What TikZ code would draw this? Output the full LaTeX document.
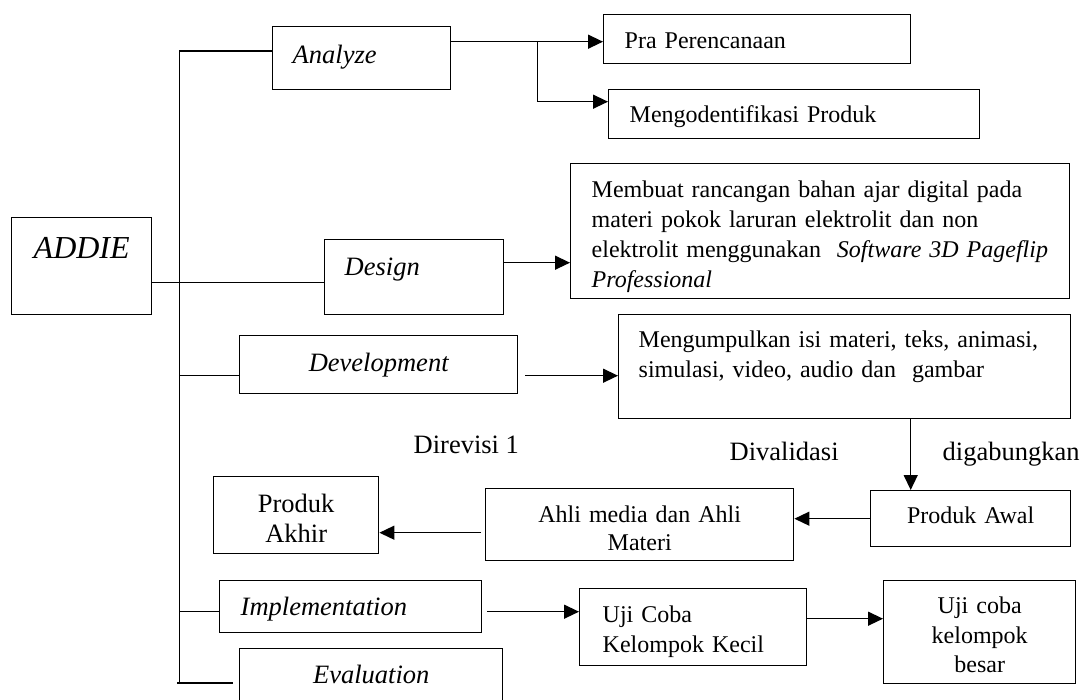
\documentclass[tikz,border=0pt]{standalone}
\usepackage{fontspec}
\setmainfont{Liberation Serif}
\usetikzlibrary{arrows.meta}
\tikzset{
	boxdim/.style n args = {4}{
		text width=#1pt,
		inner xsep=#2pt,
		text height=#3pt,
		text depth=#4pt
	},
	node_box/.style = {
		rectangle,
		draw=black,
		line width=1.4pt,
		inner ysep=0pt,
		anchor=north west,
		align=left,
		font=\fontsize{24}{30}\selectfont
	},
	node_phase/.style = {
		node_box,
		font=\fontsize{26.5}{30}\selectfont\itshape
	},
	node_label/.style = {
		anchor=base west,
		inner sep=0pt,
		font=\fontsize{26.5}{30}\selectfont
	}
}

\begin{document}
\begin{tikzpicture}[x=1pt,y=-1pt,>={Triangle[length=15pt,width=14pt]},line width=1.4pt]
\path[use as bounding box, fill=white] (0,0) rectangle (1083,700);

% phases
\node [node_phase, boxdim={96}{22}{41}{56}, align=center, font=\fontsize{32}{36}\selectfont\itshape] (addie) at (11,217) {ADDIE};
\node [node_phase, boxdim={138}{20}{37}{26}] (analyze) at (272,26) {Analyze};
\node [node_phase, boxdim={139}{20}{36}{39}] (design) at (324,239) {Design};
\node [node_phase, boxdim={238}{20}{36}{22}, align=center] (develop) at (239,335) {Development};
\node [node_phase, boxdim={220}{21}{35}{17}] (implement) at (219,580) {Implementation};
\node [node_phase, boxdim={223}{20}{35}{25}, align=center] (evaluate) at (239,648) {Evaluation};

% steps
\node [node_box, boxdim={265}{21}{34}{15}] (pra) at (603,14) {Pra Perencanaan};
\node [node_box, boxdim={329}{21}{33}{16}] (ident) at (608,89) {Mengodentifikasi Produk};
\node [node_box, boxdim={457}{21}{34}{101}] (designtxt) at (570,163)
	{Membuat rancangan bahan ajar digital pada\\
	materi pokok laruran elektrolit dan non\\
	elektrolit menggunakan\ \ \textit{Software 3D Pageflip}\\
	\textit{Professional}};
\node [node_box, boxdim={412}{20}{33}{71}] (devtxt) at (618,314)
	{Mengumpulkan isi materi, teks, animasi,\\
	simulasi, video, audio dan\ \ gambar};
\node [node_box, boxdim={160}{20}{33}{23}, align=center] (awal) at (870,490) {Produk Awal};
\node [node_box, boxdim={268}{20}{34}{38}, align=center, font=\fontsize{24}{28}\selectfont] (ahli) at (485,488) {Ahli media dan Ahli\\Materi};
\node [node_box, boxdim={135}{15}{36}{41}, align=center, font=\fontsize{26.5}{30}\selectfont] (akhir) at (213,476) {Produk\\Akhir};
\node [node_box, boxdim={181}{23}{34}{43}] (ujikecil) at (579,588) {Uji Coba\\Kelompok Kecil};
\node [node_box, boxdim={160}{16}{33}{70}, align=center, font=\fontsize{24}{29.5}\selectfont] (ujibesar) at (883,580) {Uji coba\\kelompok\\besar};

% labels
\node [node_label] (revisi) at (413,453) {Direvisi 1};
\node [node_label] (validasi) at (729,460) {Divalidasi};
\node [node_label] (gabung) at (942,460) {digabungkan};

% trunk
\coordinate (trunk_top) at (179,51);
\coordinate (trunk_bot) at (179,683);
\draw [line width=1pt] (trunk_top) -- (trunk_bot);
\draw (trunk_top) -- (analyze.west |- trunk_top);
\draw ([yshift=-11pt]develop.west -| trunk_top) -- ([yshift=-11pt]develop.west);
\draw ([yshift=-5pt]implement.west -| trunk_top) -- ([yshift=-5pt]implement.west);
\draw ([xshift=-2pt]trunk_bot) -- ([xshift=-6pt]evaluate.west |- trunk_bot);
\draw ([yshift=-16.5pt]addie.east) -- ([yshift=-16.5pt]addie.east -| design.west);

% arrows
\draw [->] ([yshift=16.5pt]analyze.east) -- ([yshift=16.5pt]analyze.east -| pra.west);
\coordinate (split) at ([xshift=86pt,yshift=16.5pt]analyze.east);
\draw [->] (split) |- ([yshift=12.5pt]ident.west);
\draw [->] ([yshift=14.5pt]design.east) -- ([yshift=14.5pt]design.east -| designtxt.west);
\draw [->] ([xshift=7pt,yshift=-11pt]develop.east) -- ([yshift=-11pt]develop.east -| devtxt.west);
\draw [->] ([xshift=66pt]devtxt.south) -- ([xshift=66pt]devtxt.south |- awal.north);
\draw [->] (awal.west) -- (awal.west -| ahli.east);
\draw [->] ([xshift=-4pt,yshift=-8pt]ahli.west) -- ([yshift=-8pt]ahli.west -| akhir.east);
\draw [->] ([xshift=5pt,yshift=-5pt]implement.east) -- ([yshift=-5pt]implement.east -| ujikecil.west);
\draw [->] ([yshift=8.5pt]ujikecil.east) -- ([yshift=8.5pt]ujikecil.east -| ujibesar.west);
\end{tikzpicture}
\end{document}
